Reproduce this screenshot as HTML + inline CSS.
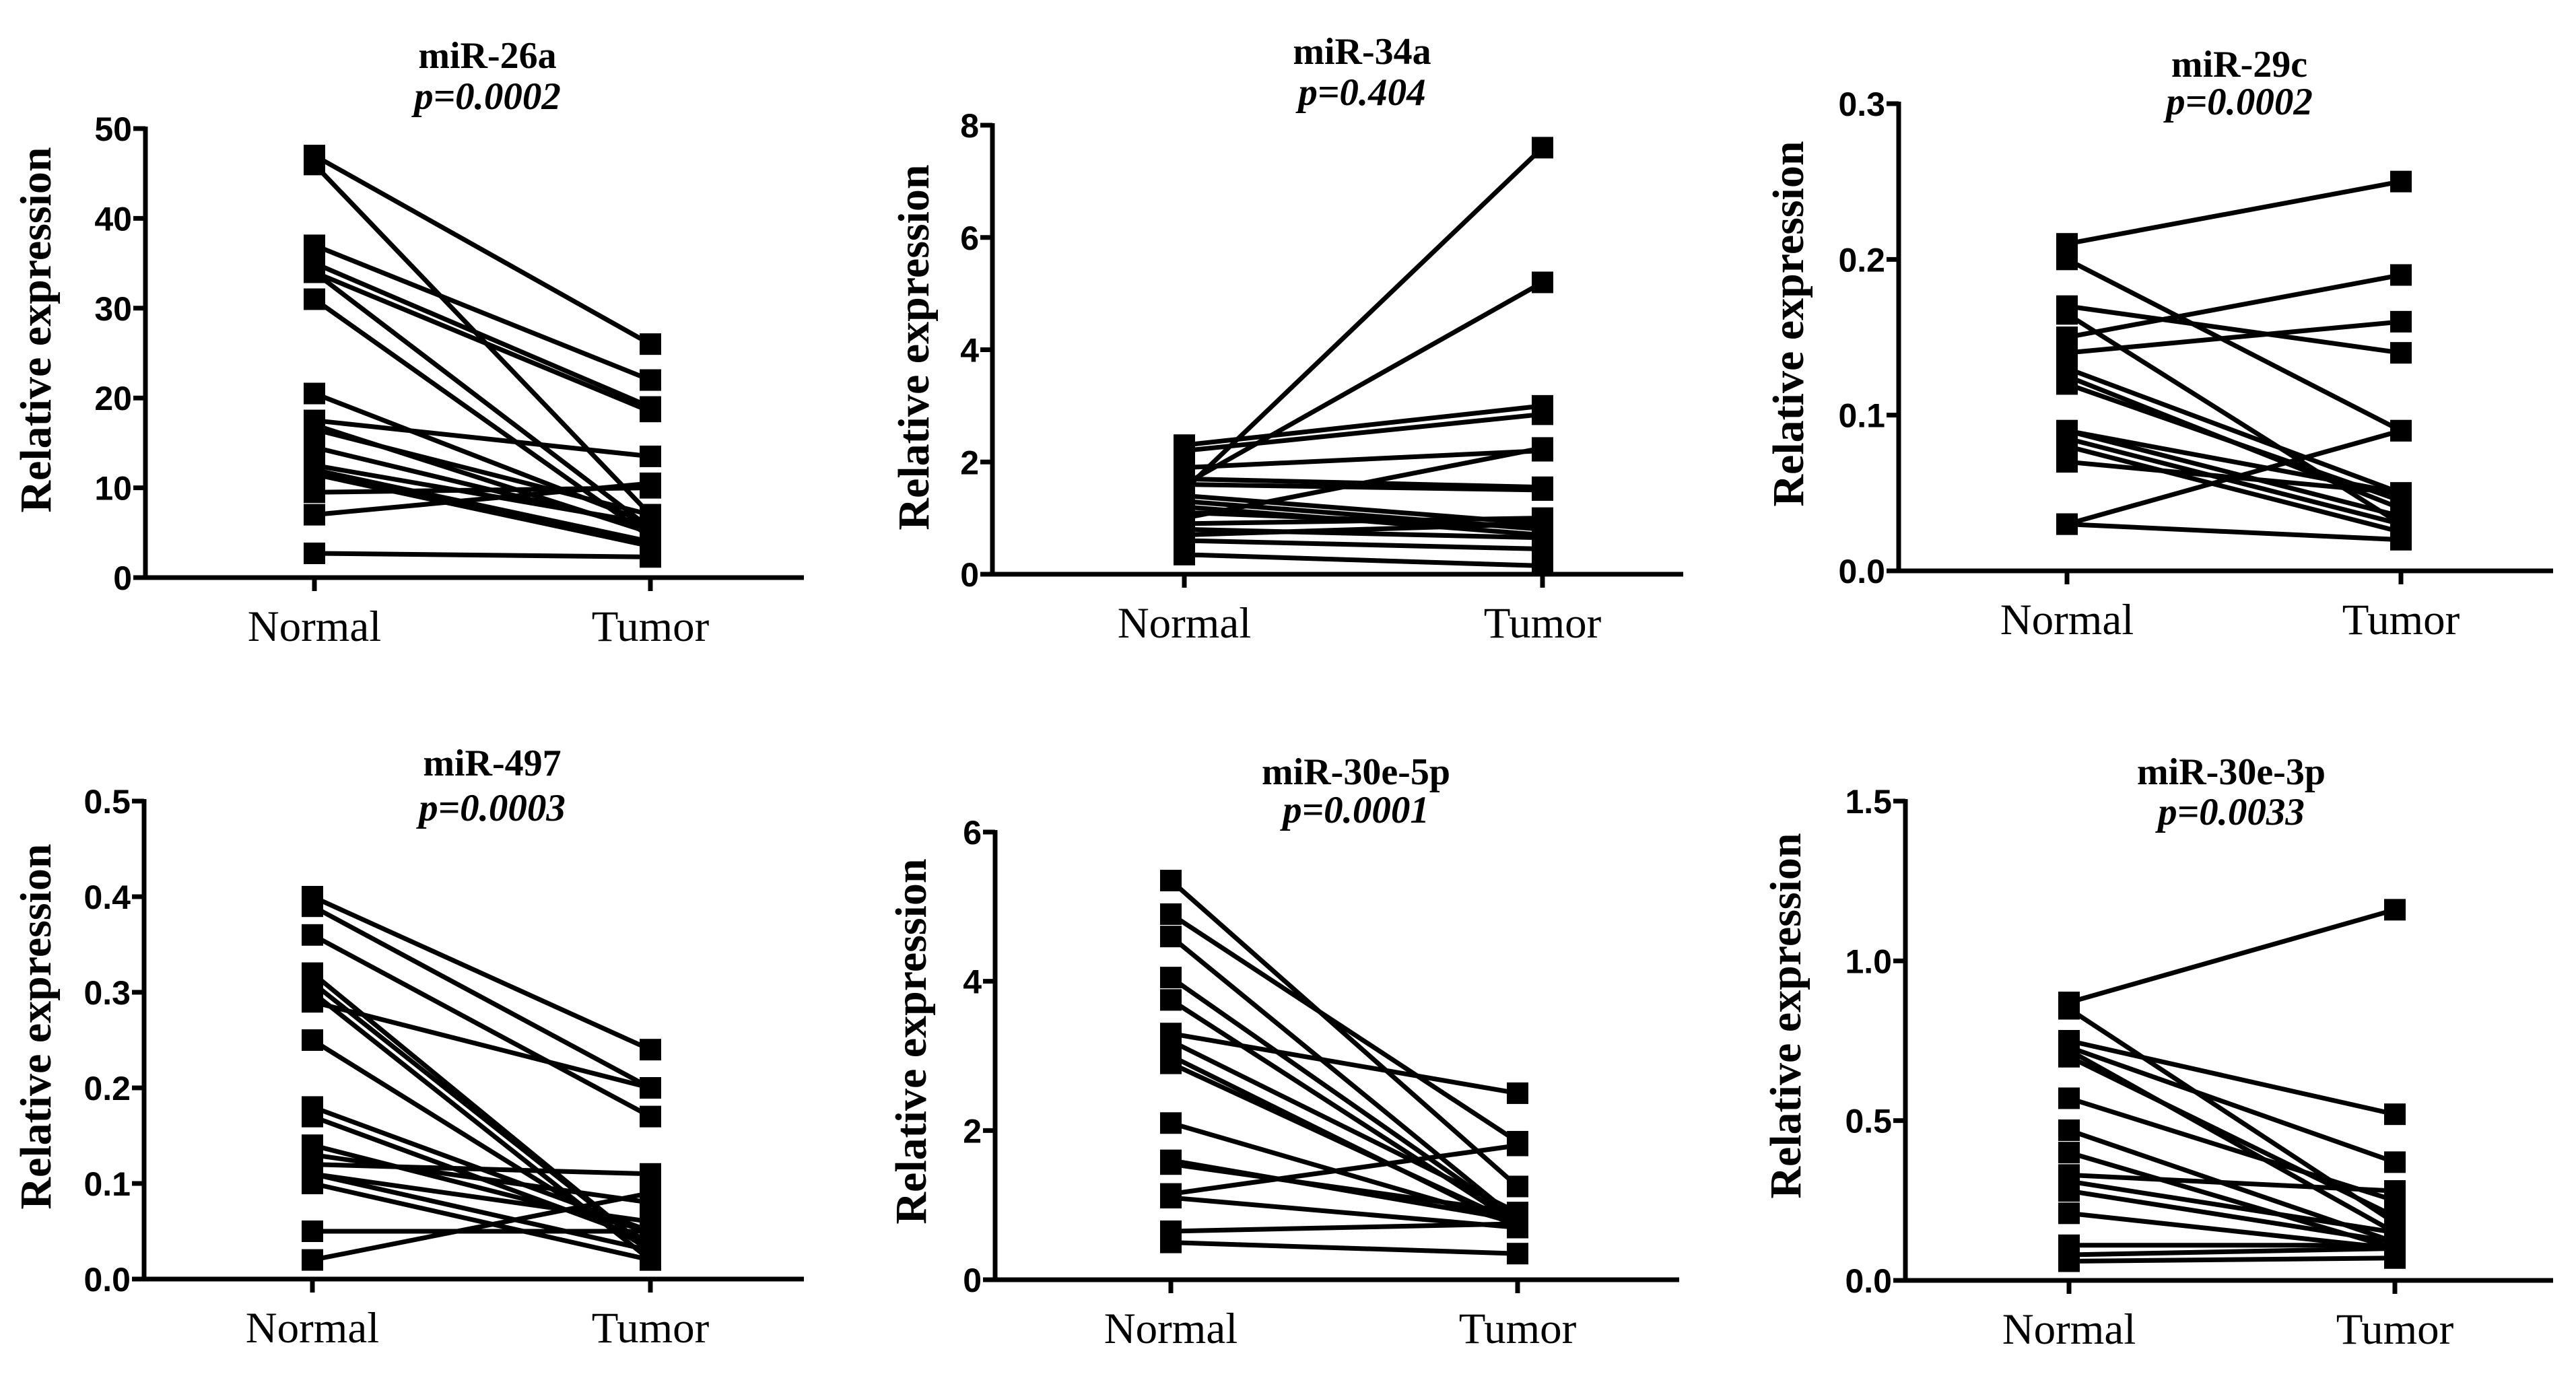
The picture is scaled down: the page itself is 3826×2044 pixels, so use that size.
<!DOCTYPE html>
<html><head><meta charset="utf-8">
<style>
html,body{margin:0;padding:0;background:#fff;}
svg{display:block;}
text{fill:#000;}
.tick{font-family:"Liberation Sans",Arial,sans-serif;font-weight:bold;font-size:50px;}
.cat{font-family:"Liberation Serif","Times New Roman",serif;font-size:65px;}
.ttl{font-family:"Liberation Serif","Times New Roman",serif;font-weight:bold;font-size:56px;}
.pv{font-family:"Liberation Serif","Times New Roman",serif;font-weight:bold;font-style:italic;font-size:57px;}
.yt{font-family:"Liberation Serif","Times New Roman",serif;font-weight:bold;font-size:66px;}
</style></head>
<body>
<svg id="fig" xmlns="http://www.w3.org/2000/svg" width="3826" height="2044" viewBox="0 0 3826 2044"></svg>
<script>
// ---- data ----
const titles = ["miR-26a","miR-34a","miR-29c","miR-497","miR-30e-5p","miR-30e-3p"];
const pvalues = ["p=0.0002","p=0.404","p=0.0002","p=0.0003","p=0.0001","p=0.0033"];
const categories = ["Normal","Tumor"];
const ticks1 = ["0","10","20","30","40","50"];
const ticks2 = ["0","2","4","6","8"];
const ticks3 = ["0.0","0.1","0.2","0.3"];
const ticks4 = ["0.0","0.1","0.2","0.3","0.4","0.5"];
const ticks5 = ["0","2","4","6"];
const ticks6 = ["0.0","0.5","1.0","1.5"];
const normal1 = [47,46,37,35,34,34,31,20.5,17.5,17,16.5,14.5,12.5,12,11.5,9.5,7,2.7];
const tumor1  = [26,7,22,19,18.5,5.5,4.5,6,13.5,5,7,5.5,6,4,3.5,10,10.5,2.3];
const normal2 = [1.5,1.6,2.3,2.2,1.9,1.0,1.7,1.6,1.4,1.3,1.2,1.1,0.9,0.8,0.7,0.6,0.35];
const tumor2  = [7.6,5.2,3.0,2.85,2.2,2.25,1.55,1.5,0.9,0.8,0.7,0.85,1.0,0.65,0.9,0.45,0.15];
const normal3 = [0.21,0.20,0.17,0.165,0.15,0.14,0.13,0.125,0.12,0.09,0.09,0.085,0.08,0.07,0.03,0.03];
const tumor3  = [0.25,0.09,0.14,0.03,0.19,0.16,0.05,0.04,0.045,0.05,0.035,0.03,0.025,0.05,0.09,0.02];
const normal4 = [0.40,0.39,0.36,0.32,0.31,0.30,0.29,0.25,0.18,0.17,0.14,0.13,0.12,0.11,0.11,0.10,0.05,0.02];
const tumor4  = [0.24,0.20,0.17,0.03,0.03,0.02,0.20,0.03,0.05,0.04,0.05,0.08,0.11,0.06,0.03,0.02,0.05,0.09];
const normal5 = [5.35,4.9,4.6,4.05,3.75,3.3,3.2,3.0,2.9,2.1,1.6,1.55,1.15,1.1,0.65,0.5];
const tumor5  = [1.25,1.85,0.8,0.8,0.75,2.5,0.9,0.7,0.75,0.75,0.8,0.9,1.8,0.7,0.75,0.35];
const normal6 = [0.87,0.85,0.75,0.73,0.72,0.70,0.57,0.47,0.40,0.33,0.31,0.28,0.21,0.11,0.08,0.06];
const tumor6  = [1.16,0.18,0.52,0.37,0.15,0.20,0.25,0.12,0.10,0.28,0.15,0.12,0.10,0.11,0.10,0.07];
const yMax = [50,8,0.3,0.5,6,1.5];

const tickSets=[ticks1,ticks2,ticks3,ticks4,ticks5,ticks6];
const normals=[normal1,normal2,normal3,normal4,normal5,normal6];
const tumors=[tumor1,tumor2,tumor3,tumor4,tumor5,tumor6];
// ---- layout ----
const L=[
 {ax:216,top:191,bot:858,end:1194,xn:467,xt:966,tx:724,ty:83,py:144,yx:53,yy:490},
 {ax:1474,top:186,bot:853,end:2500,xn:1759,xt:2291,tx:2023,ty:77,py:138,yx:1357,yy:516},
 {ax:2820,top:154,bot:848,end:3792,xn:3070,xt:3566,tx:3326,ty:96,py:152,yx:2656,yy:481},
 {ax:214,top:1190,bot:1900,end:1194,xn:464,xt:966,tx:731,ty:1134,py:1201,yx:53,yy:1525},
 {ax:1478,top:1236,bot:1901,end:2494,xn:1739,xt:2254,tx:2014,ty:1147,py:1204,yx:1353,yy:1547},
 {ax:2830,top:1190,bot:1902,end:3792,xn:3073,xt:3557,tx:3314,ty:1147,py:1207,yx:2652,yy:1509}
];
const NS="http://www.w3.org/2000/svg";
const svg=document.getElementById('fig');
function mk(tag,attrs,parent){const e=document.createElementNS(NS,tag);for(const k in attrs)e.setAttribute(k,attrs[k]);parent.appendChild(e);return e;}
titles.forEach((t,i)=>{
  const c=L[i];
  const g=mk('g',{},svg);
  
  
  const yS=v=>c.bot-(v/yMax[i])*(c.bot-c.top);
  const tt=mk('text',{x:c.tx,y:c.ty+18,'text-anchor':'middle',class:'ttl'},g);tt.textContent=t;
  
  
  const pv=mk('text',{x:c.tx,y:c.py+18,'text-anchor':'middle',class:'pv'},g);pv.textContent=pvalues[i];
  
  
  const yt=mk('text',{x:0,y:0,'text-anchor':'middle',class:'yt',transform:`translate(${c.yx+22},${c.yy}) rotate(-90)`},g);yt.textContent='Relative expression';
  
  
  const ya=mk('line',{x1:c.ax,y1:c.top-3,x2:c.ax,y2:c.bot+3,stroke:'#000','stroke-width':7},g);
  
  
  const xa=mk('line',{x1:c.ax-3,y1:c.bot,x2:c.end,y2:c.bot,stroke:'#000','stroke-width':7},g);
  
  
  const tk=tickSets[i];
  tk.forEach((lab,k)=>{
    const v=parseFloat(lab);const y=yS(v);
    const tl=mk('line',{x1:c.ax-18,y1:y,x2:c.ax,y2:y,stroke:'#000','stroke-width':7},g);
    
    
    const tx=mk('text',{x:c.ax-20,y:y+18,'text-anchor':'end',class:'tick'},g);tx.textContent=lab;
    
    
  });
  [c.xn,c.xt].forEach((x,k)=>{
    const bl=mk('line',{x1:x,y1:c.bot,x2:x,y2:c.bot+20,stroke:'#000','stroke-width':7},g);
    
    
    const cl=mk('text',{x:x,y:c.bot+94,'text-anchor':'middle',class:'cat'},g);cl.textContent=categories[k];
    
    
  });
  const n=normals[i],tm=tumors[i];
  n.forEach((v,k)=>{
    const ln=mk('line',{x1:c.xn,y1:yS(v),x2:c.xt,y2:yS(tm[k]),stroke:'#000','stroke-width':7},g);
    
    
  });
  n.forEach((v,k)=>{
    [[c.xn,v],[c.xt,tm[k]]].forEach(p=>{
      const r=mk('rect',{x:p[0]-16,y:yS(p[1])-16,width:32,height:32,fill:'#000'},g);
      
      
    });
  });
});
</script>
</body></html>
